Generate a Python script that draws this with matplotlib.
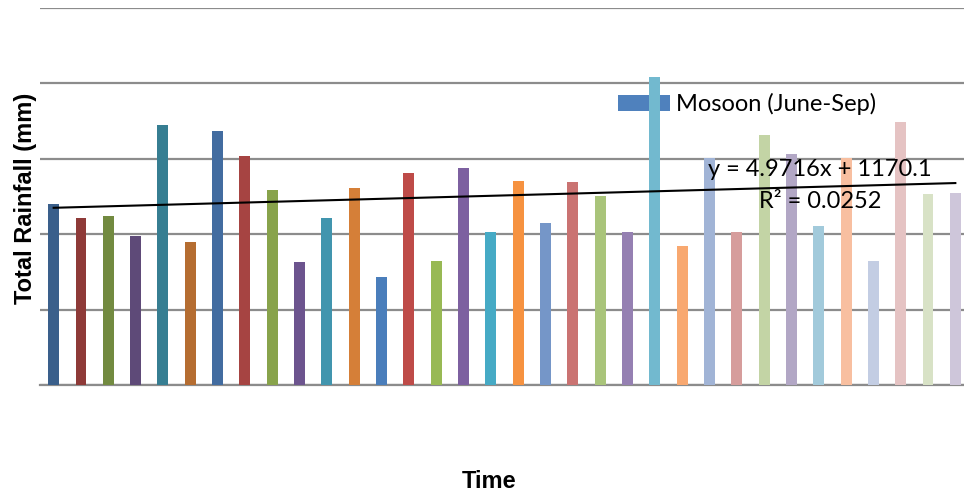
import matplotlib.pyplot as plt
import numpy as np

years = np.arange(1, 35)
rainfall = [1202, 1109, 1122, 989, 1726, 950, 1687, 1521, 1295, 817,
            1109, 1308, 717, 1408, 823, 1441, 1016, 1355, 1076, 1348,
            1255, 1016, 2045, 923, 1507, 1016, 1660, 1534, 1056, 1507,
            823, 1746, 1268, 1275]
colors = ['#3a5f8b', '#8e3a38', '#728a40', '#5e4a78', '#367e92', '#b56d31',
          '#426ca0', '#a64442', '#88a34b', '#6c548e', '#4195ae', '#d57f38',
          '#4a7ebb', '#be4b48', '#98b954', '#7d60a0', '#46aac5', '#f69240',
          '#7596c8', '#ca7372', '#a9c47a', '#9580b2', '#72b9cf', '#f8a870',
          '#a1b4d6', '#d69d9c', '#c3d4a5', '#b2a7c5', '#a2cadb', '#f8bfa0',
          '#c3cde3', '#e5c3c3', '#d8e2c6', '#cec6da']
slope = 4.9716
intercept = 1170.1
r2 = 0.0252

fig = plt.figure(figsize=(9.64, 4.99), dpi=100)
ax = fig.add_axes([40 / 964, 1 - 385 / 499, 929 / 964, 377 / 499])

bars = ax.bar(years, rainfall, width=0.4, color=colors, zorder=3,
              label='Mosoon (June-Sep)')
trend = slope * years + intercept
ax.plot(years, trend, color='black', lw=1.5, zorder=4)

ax.set_xlim(0.5, 34.5)
ax.set_ylim(0, 2500)
ax.set_yticks(np.arange(0, 2501, 500))
ax.yaxis.grid(True, color='#8c8c8c', lw=1.6, zorder=0)
ax.set_axisbelow(True)
ax.tick_params(left=False, bottom=False, labelleft=False, labelbottom=False)
for s in ['left', 'right', 'top']:
    ax.spines[s].set_visible(False)
ax.spines['bottom'].set_color('#8c8c8c')
ax.spines['bottom'].set_linewidth(1.6)

leg = ax.legend(loc='center left', bbox_to_anchor=(578 / 929, 1 - 96 / 377),
                frameon=False, prop={'family': 'Lato', 'size': 17},
                handlelength=2.2, handleheight=0.65, handletextpad=0.25,
                borderaxespad=0, borderpad=0)
leg.legend_handles[0].set_facecolor('#4f81bd')
leg.set_zorder(1)

ax.text(780 / 929, 1 - 162 / 377, f'y = {slope}x + {intercept}',
        transform=ax.transAxes, ha='center', va='center',
        family='Lato', fontsize=17, zorder=5)
ax.text(780 / 929, 1 - 194 / 377, f'R² = {r2}',
        transform=ax.transAxes, ha='center', va='center',
        family='Lato', fontsize=17, zorder=5)

fig.text(26 / 964, 1 - 198 / 499, 'Total Rainfall (mm)', rotation=90,
         ha='center', va='center', fontsize=17, fontweight='bold',
         family='Liberation Sans')
fig.text(489 / 964, 1 - 482 / 499, 'Time', ha='center', va='center',
         fontsize=17, fontweight='bold', family='Liberation Sans')

fig.savefig('out.png', dpi=100)
